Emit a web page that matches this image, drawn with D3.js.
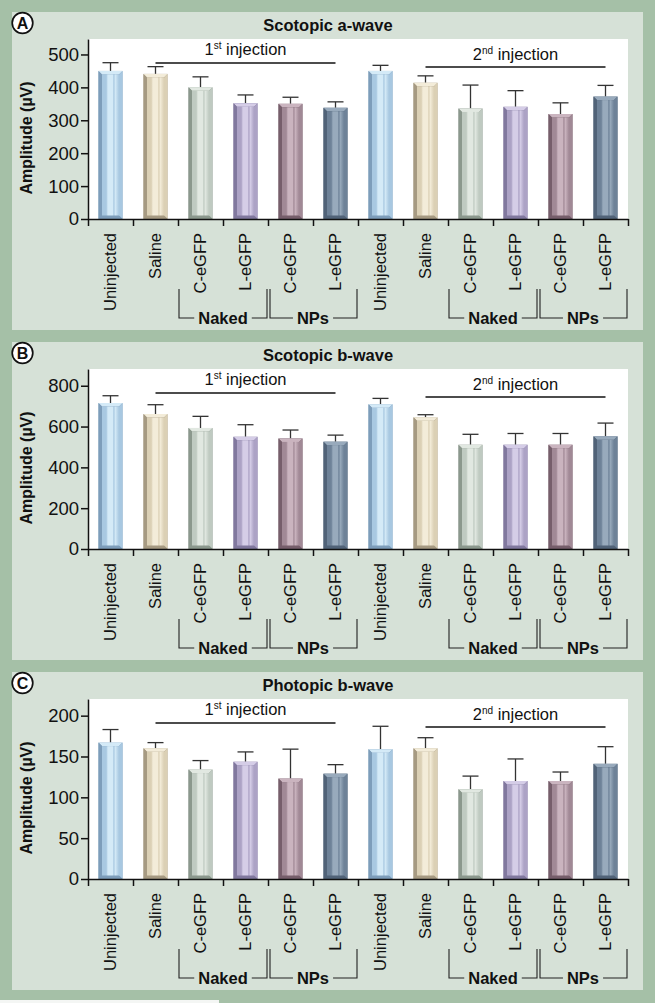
<!DOCTYPE html>
<html><head><meta charset="utf-8">
<script src="https://cdn.jsdelivr.net/npm/d3@7"></script>
<style>body{margin:0;background:#a5c0a7}svg{display:block}text{font-family:"Liberation Sans",Arial,sans-serif}</style>
</head><body>
<script>
const categories = ["Uninjected","Saline","C-eGFP","L-eGFP","C-eGFP","L-eGFP","Uninjected","Saline","C-eGFP","L-eGFP","C-eGFP","L-eGFP"];
const colorIndex = [0,1,2,3,4,5,0,1,2,3,4,5];

const panelLetters = ["A","B","C"];
const panelTitles = ["Scotopic a-wave","Scotopic b-wave","Photopic b-wave"];
const yMax = [547, 882, 220.4];
const yTicks = [[0,100,200,300,400,500],[0,200,400,600,800],[0,50,100,150,200]];

const scotopicA = [450,441,400,352,350,338,450,414,336,341,319,372];
const scotopicAErr = [25,22,32,25,20,18,17,21,71,49,34,34];
const scotopicB = [715,661,593,550,542,526,709,645,511,511,511,552];
const scotopicBErr = [36,46,57,59,41,32,29,13,51,55,55,65];
const photopicB = [167,160,134,143.6,123,129,159,160,110,120,120,141];
const photopicBErr = [16,7,11,12,36,11,28,13,16,27,11,21];

const values = [scotopicA, scotopicB, photopicB];
const errors = [scotopicAErr, scotopicBErr, photopicBErr];

const injectionLabels = [["1","st"," injection"],["2","nd"," injection"]];
const groupLabels = ["Naked","NPs","Naked","NPs"];

const palette = [
 {base:"#a8c8e1", light:"#d4eaf7", dark:"#7d9dba"},
 {base:"#dbd0b5", light:"#f3ecd9", dark:"#a69a82"},
 {base:"#bfcac1", light:"#e1e8e1", dark:"#8b988d"},
 {base:"#aca2c5", light:"#d5cde7", dark:"#81789e"},
 {base:"#a18996", light:"#cab4bf", dark:"#765e6b"},
 {base:"#6e8298", light:"#98aabc", dark:"#516378"}
];

const W = 655, H = 1003;
const svg = d3.select("body").append("svg").attr("width", W).attr("height", H);
svg.append("rect").attr("width", W).attr("height", H).attr("fill", "#a5c0a7");
svg.append("rect").attr("x",0).attr("y",1000).attr("width",219).attr("height",3).attr("fill","#f4f6f4");

const defs = svg.append("defs");
palette.forEach((p,i)=>{
  const g = defs.append("linearGradient").attr("id","g"+i).attr("x1","0").attr("x2","1").attr("y1","0").attr("y2","0");
  [[0,p.base],[0.25,p.base],[0.35,p.light],[0.62,p.light],[0.7,p.base],[0.78,p.light],[1,p.base]].forEach(s=>{
    g.append("stop").attr("offset",s[0]).attr("stop-color",s[1]);
  });
});

const panelTops = [12, 342, 672];
const plotLeft = 88, plotRight = 628;

panelTops.forEach((pt, pi) => {
  const G = svg.append("g");
  G.append("rect").attr("x",12).attr("y",pt).attr("width",631).attr("height",318).attr("fill","#d6e1d7");
  const top = pt + 27, base = pt + 207;
  G.append("rect").attr("x",plotLeft).attr("y",top).attr("width",plotRight-plotLeft).attr("height",base-top).attr("fill","#fff");

  // letter
  G.append("circle").attr("cx",22.5).attr("cy",pt+11).attr("r",10.3).attr("fill","#fff").attr("stroke","#111").attr("stroke-width",1.7);
  G.append("text").attr("x",22.5).attr("y",pt+11).attr("dy","0.36em").attr("text-anchor","middle")
    .attr("font-size",16).attr("font-weight","bold").attr("fill","#111").text(panelLetters[pi]);
  // title
  G.append("text").attr("x",328).attr("y",pt+19).attr("text-anchor","middle").attr("font-size",16.5)
    .attr("font-weight","bold").attr("fill","#111").text(panelTitles[pi]);

  const x = d3.scaleBand().domain(d3.range(categories.length)).range([plotLeft, plotRight]);
  const xb = d3.scaleLinear().domain([0, categories.length]).range([plotLeft, plotRight]);
  const y = d3.scaleLinear().domain([0, yMax[pi]]).range([base, top]);

  // bars
  const bw = 24, b = 3.5;
  values[pi].forEach((v, i) => {
    const p = palette[colorIndex[i]];
    const cx = x(i) + x.bandwidth()/2;
    const x0 = cx - bw/2, x1 = cx + bw/2, yt = y(v), yb = y(0);
    const err = errors[pi][i];
    G.append("line").attr("x1",cx).attr("x2",cx).attr("y1",yt).attr("y2",y(v+err)).attr("stroke","#333").attr("stroke-width",1.3);
    G.append("line").attr("x1",cx-8).attr("x2",cx+8).attr("y1",y(v+err)).attr("y2",y(v+err)).attr("stroke","#333").attr("stroke-width",1.3);
    const bar = G.append("g");
    bar.append("rect").attr("x",x0).attr("y",yt).attr("width",bw).attr("height",yb-yt).attr("fill",p.dark);
    bar.append("polygon").attr("points",[[x0,yt],[x1,yt],[x1-b,yt+b],[x0+b,yt+b]].join(" ")).attr("fill",p.light);
    bar.append("polygon").attr("points",[[x0,yt],[x0+b,yt+b],[x0+b,yb-b],[x0,yb]].join(" ")).attr("fill",p.dark);
    bar.append("polygon").attr("points",[[x1,yt],[x1-b,yt+b],[x1-b,yb-b],[x1,yb]].join(" ")).attr("fill",p.base);
    bar.append("polygon").attr("points",[[x0,yb],[x0+b,yb-b],[x1-b,yb-b],[x1,yb]].join(" ")).attr("fill",p.dark);
    bar.append("rect").attr("x",x0+b).attr("y",yt+b).attr("width",bw-2*b).attr("height",Math.max(0,yb-yt-2*b)).attr("fill","url(#g"+colorIndex[i]+")");
  });

  // axes
  const xAxis = G.append("g").attr("transform",`translate(0,${base})`)
    .call(d3.axisBottom(xb).tickValues(d3.range(0, categories.length+1)).tickFormat("").tickSize(7).tickSizeOuter(0));
  xAxis.selectAll("path,line").attr("stroke","#111").attr("stroke-width",1.5);
  const yAxis = G.append("g").attr("transform",`translate(${plotLeft},0)`)
    .call(d3.axisLeft(y).tickValues(yTicks[pi]).tickSize(7).tickPadding(2).tickSizeOuter(0));
  yAxis.selectAll("path,line").attr("stroke","#111").attr("stroke-width",1.5);
  yAxis.selectAll("text").attr("font-size",18.5).attr("fill","#111").attr("font-family","Liberation Sans, Arial, sans-serif");

  // y title
  G.append("text").attr("transform",`translate(26,${base-81}) rotate(-90)`).attr("text-anchor","middle")
    .attr("dy","0.35em").attr("font-size",16).attr("font-weight","bold").attr("fill","#111").text("Amplitude (µV)");

  // category labels
  categories.forEach((c, i) => {
    const cx = x(i) + x.bandwidth()/2;
    G.append("text").attr("transform",`translate(${cx},${base+14}) rotate(-90)`).attr("text-anchor","end")
      .attr("dy","0.36em").attr("font-size",16.5).attr("fill","#111").text(c);
  });

  // group brackets
  const groups = [[2,4],[4,6],[8,10],[10,12]];
  groups.forEach((g, gi) => {
    const gx0 = xb(g[0]) + (gi % 2 === 0 ? 1 : 2), gx1 = xb(g[1]) - 1;
    const yTopB = base + 70, yBot = base + 99;
    const mid = (xb(g[0]) + xb(g[1])) / 2;
    const t = G.append("text").attr("x",mid).attr("y",yBot).attr("dy","0.35em").attr("text-anchor","middle")
      .attr("font-size",16.5).attr("font-weight","bold").attr("fill","#111").text(groupLabels[gi]);
    const tw = t.node().getComputedTextLength();
    const path = `M${gx0},${yTopB}V${yBot}H${mid-tw/2-4}M${mid+tw/2+4},${yBot}H${gx1}V${yTopB}`;
    G.append("path").attr("d",path).attr("fill","none").attr("stroke","#222").attr("stroke-width",1.1);
  });

  // injection lines
  const inj = [[1,5,24,16],[7,11,28,21]];
  inj.forEach((s, si) => {
    const a = x(s[0]) + x.bandwidth()/2, bb = x(s[1]) + x.bandwidth()/2;
    G.append("line").attr("x1",a).attr("x2",bb).attr("y1",top+s[2]).attr("y2",top+s[2]).attr("stroke","#111").attr("stroke-width",1.3);
    const t = G.append("text").attr("x",(a+bb)/2).attr("y",top+s[3]).attr("text-anchor","middle").attr("font-size",16.5).attr("fill","#111");
    t.append("tspan").text(injectionLabels[si][0]);
    t.append("tspan").attr("font-size",10).attr("dy",-6).text(injectionLabels[si][1]);
    t.append("tspan").attr("dy",6).text(injectionLabels[si][2]);
  });
});
</script>
</body></html>
